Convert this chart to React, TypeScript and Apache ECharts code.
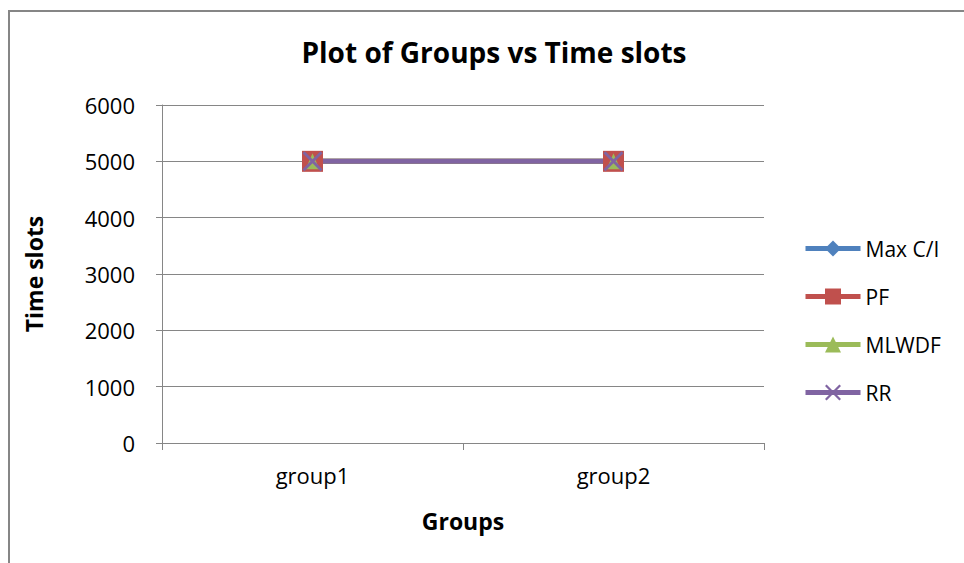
import React, { useEffect, useRef } from "react";
import * as echarts from "echarts";

// Chart data
const groups = ["group1", "group2"];
const seriesNames = ["Max C/I", "PF", "MLWDF", "RR"];
const maxCI = [5000, 5000];
const pf = [5000, 5000];
const mlwdf = [5000, 5000];
const rr = [5000, 5000];
const yTicks = { min: 0, max: 6000, interval: 1000 };

const FONT = "'Open Sans', 'Noto Sans', sans-serif";
const GRID_GRAY = "#868686";
const CROSS =
  "path://M2,0 L10,8 L18,0 L20,2 L12,10 L20,18 L18,20 L10,12 L2,20 L0,18 L8,10 L0,2 Z";

export default function App() {
  const ref = useRef<HTMLDivElement>(null);

  useEffect(() => {
    if (!ref.current) return;
    const chart = echarts.init(ref.current, undefined, { renderer: "svg" });

    const mk = (
      name: string,
      data: number[],
      color: string,
      symbol: string,
      symbolSize: number | number[]
    ) => ({
      name,
      type: "line",
      data,
      color,
      symbol,
      symbolSize,
      showSymbol: true,
      lineStyle: { width: 5, color },
      itemStyle: { color, borderWidth: 0 },
    });

    chart.setOption({
      animation: false,
      backgroundColor: "#ffffff",
      textStyle: { fontFamily: FONT },
      title: {
        text: "Plot of Groups vs Time slots",
        left: 489,
        top: 33,
        textAlign: "center",
        textStyle: { fontFamily: FONT, fontSize: 28, fontWeight: "bold", color: "#000" },
      },
      graphic: [
        {
          type: "rect",
          shape: { x: 9, y: 11, width: 1000, height: 600 },
          style: { fill: "none", stroke: GRID_GRAY, lineWidth: 2 },
          silent: true,
        },
      ],
      legend: {
        orient: "vertical",
        left: 803,
        top: 238,
        padding: 0,
        itemWidth: 55,
        itemHeight: 20,
        itemGap: 27,
        lineStyle: { width: 5 },
        textStyle: { fontFamily: FONT, fontSize: 21, color: "#000", lineHeight: 20 },
        data: seriesNames,
      },
      grid: { left: 162, right: 200, top: 105, bottom: 120, containLabel: false },
      xAxis: {
        type: "category",
        data: groups,
        boundaryGap: true,
        name: "Groups",
        nameLocation: "middle",
        nameGap: 66,
        nameTextStyle: { fontFamily: FONT, fontSize: 23, fontWeight: "bold", color: "#000" },
        axisLine: { show: true, lineStyle: { color: GRID_GRAY, width: 1 } },
        axisTick: { show: true, length: 7, alignWithLabel: false, lineStyle: { color: GRID_GRAY } },
        axisLabel: { fontFamily: FONT, fontSize: 22, color: "#000", margin: 21 },
        splitLine: { show: false },
      },
      yAxis: {
        type: "value",
        min: yTicks.min,
        max: yTicks.max,
        interval: yTicks.interval,
        name: "Time slots",
        nameLocation: "middle",
        nameGap: 117,
        nameRotate: 90,
        nameTextStyle: { fontFamily: FONT, fontSize: 23, fontWeight: "bold", color: "#000" },
        axisLine: { show: true, lineStyle: { color: GRID_GRAY, width: 1 } },
        axisTick: { show: true, length: 6, lineStyle: { color: GRID_GRAY } },
        axisLabel: {
          fontFamily: FONT,
          fontSize: 22,
          color: "#000",
          margin: 27,
          formatter: (v: number) => String(v),
        },
        splitLine: { show: true, lineStyle: { color: GRID_GRAY, width: 1 } },
      },
      series: [
        mk(seriesNames[0], maxCI, "#4F81BD", "diamond", [14, 18]),
        mk(seriesNames[1], pf, "#C0504D", "rect", 21),
        mk(seriesNames[2], mlwdf, "#9BBB59", "triangle", [14, 16]),
        mk(seriesNames[3], rr, "#8064A2", CROSS, 20),
      ],
    });

    return () => chart.dispose();
  }, []);

  return (
    <div
      ref={ref}
      style={{ position: "fixed", left: 0, top: 0, width: 964, height: 563 }}
    />
  );
}
